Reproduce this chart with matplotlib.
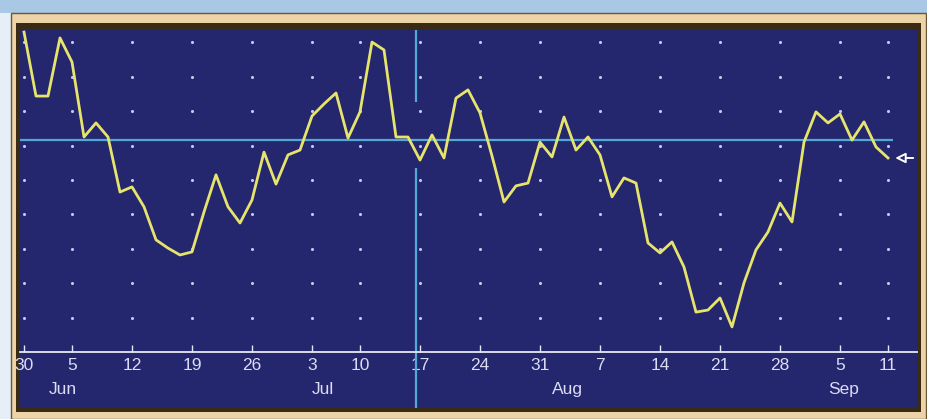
import matplotlib
matplotlib.use("Agg")
import matplotlib.pyplot as plt
from matplotlib.patches import Rectangle
from matplotlib.transforms import blended_transform_factory

# daily closes (grid units), one per trading day 30 May .. 11 Sep
values = [9.30, 7.44, 7.44, 9.13, 8.43, 6.25, 6.66, 6.25, 4.65, 4.80,
          4.22, 3.26, 3.02, 2.82, 2.91, 4.07, 5.15, 4.22, 3.75, 4.42,
          5.81, 4.88, 5.73, 5.87, 6.86, 7.21, 7.53, 6.22, 6.98, 9.01,
          8.78, 6.25, 6.25, 5.58, 6.31, 5.64, 7.38, 7.62, 6.95, 5.70,
          4.36, 4.83, 4.91, 6.10, 5.67, 6.83, 5.87, 6.25, 5.73, 4.51,
          5.06, 4.91, 3.17, 2.88, 3.20, 2.47, 1.16, 1.22, 1.57, 0.73,
          2.01, 2.97, 3.49, 4.33, 3.78, 6.10, 6.98, 6.66, 6.92, 6.16,
          6.69, 5.96, 5.64]
days = list(range(len(values)))

# weekly ticks (trading-day index) and their labels
tick_days = [0, 4, 9, 14, 19, 24, 28, 33, 38, 43, 48, 53, 58, 63, 68, 72]
tick_labels = ["30", "5", "12", "19", "26", "3", "10", "17", "24", "31",
               "7", "14", "21", "28", "5", "11"]
month_pos = [3.2, 24.9, 45.3, 68.3]
month_labels = ["Jun", "Jul", "Aug", "Sep"]
grid_rows = [1, 2, 3, 4, 5, 6, 7, 8, 9]

cursor_level = 6.16
cursor_day = 32.67

navy = "#24266e"
txt = "#dcdcf2"
font = ["Liberation Sans Narrow", "Liberation Sans", "DejaVu Sans"]

W, H = 928, 419
fig = plt.figure(figsize=(W / 100, H / 100), dpi=100, facecolor="#e6eff8")

def px_rect(x0, y0, x1, y1, **kw):
    # rectangle given in pixel coords from top-left, kept behind the axes
    fig.add_artist(Rectangle((x0 / W, 1 - y1 / H), (x1 - x0) / W, (y1 - y0) / H,
                             transform=fig.transFigure, zorder=-5, **kw))

px_rect(0, 0, W, 13, fc="#a9c8e6", ec="none")
px_rect(11, 13, 926, 419, fc="#ecd3a8", ec="#6a5636", lw=1)
px_rect(16, 23, 921, 412, fc="#3a2b14", ec="none")

ax = fig.add_axes([20 / W, 1 - 408 / H, 897 / W, 378 / H], facecolor=navy)
ax.set_xlim((20 - 24) / 12, (917 - 24) / 12)
ax.set_ylim(-56 / 34.4, 322 / 34.4)

for s in ["top", "left", "right"]:
    ax.spines[s].set_visible(False)
ax.spines["bottom"].set_position(("data", 0))
ax.spines["bottom"].set_color("#e8e8f4")
ax.spines["bottom"].set_linewidth(1.3)
ax.set_yticks([])
ax.set_xticks(tick_days)
ax.set_xticklabels(tick_labels, fontsize=12.5, color=txt, family=font)
ax.tick_params(axis="x", direction="in", length=5, width=1, color="#e8e8f4", pad=4)

trans = blended_transform_factory(ax.transData, ax.transData)
for pos, lab in zip(month_pos, month_labels):
    ax.text(pos, -1.10, lab, ha="center", va="center", fontsize=12.5,
            color=txt, family=font, transform=trans)

# dotted grid
gx = [d for d in tick_days for r in grid_rows]
gy = [r for d in tick_days for r in grid_rows]
ax.scatter(gx, gy, s=5, color="#c4c6ea", marker="o", linewidths=0, zorder=1)

# crosshair cursor
ax.hlines(cursor_level, ax.get_xlim()[0], (893 - 24) / 12, color="#52a9d8", lw=1.6, zorder=2)
ax.vlines(cursor_day, 7.27, 9.36, color="#52a9d8", lw=1.6, zorder=2)
ax.vlines(cursor_day, -1.63, 5.35, color="#52a9d8", lw=1.6, zorder=2)

ax.plot(days, values, color="#e6e46c", lw=2.0, zorder=3)

# last-value pointer
ax.annotate("", xy=(72.6, values[-1]), xytext=(74.1, values[-1]),
            arrowprops=dict(arrowstyle="-|>,head_length=0.6,head_width=0.3",
                            fc=navy, ec="white", lw=1.4, shrinkA=0, shrinkB=0),
            zorder=4)

fig.savefig("out.png", dpi=100, facecolor=fig.get_facecolor())
